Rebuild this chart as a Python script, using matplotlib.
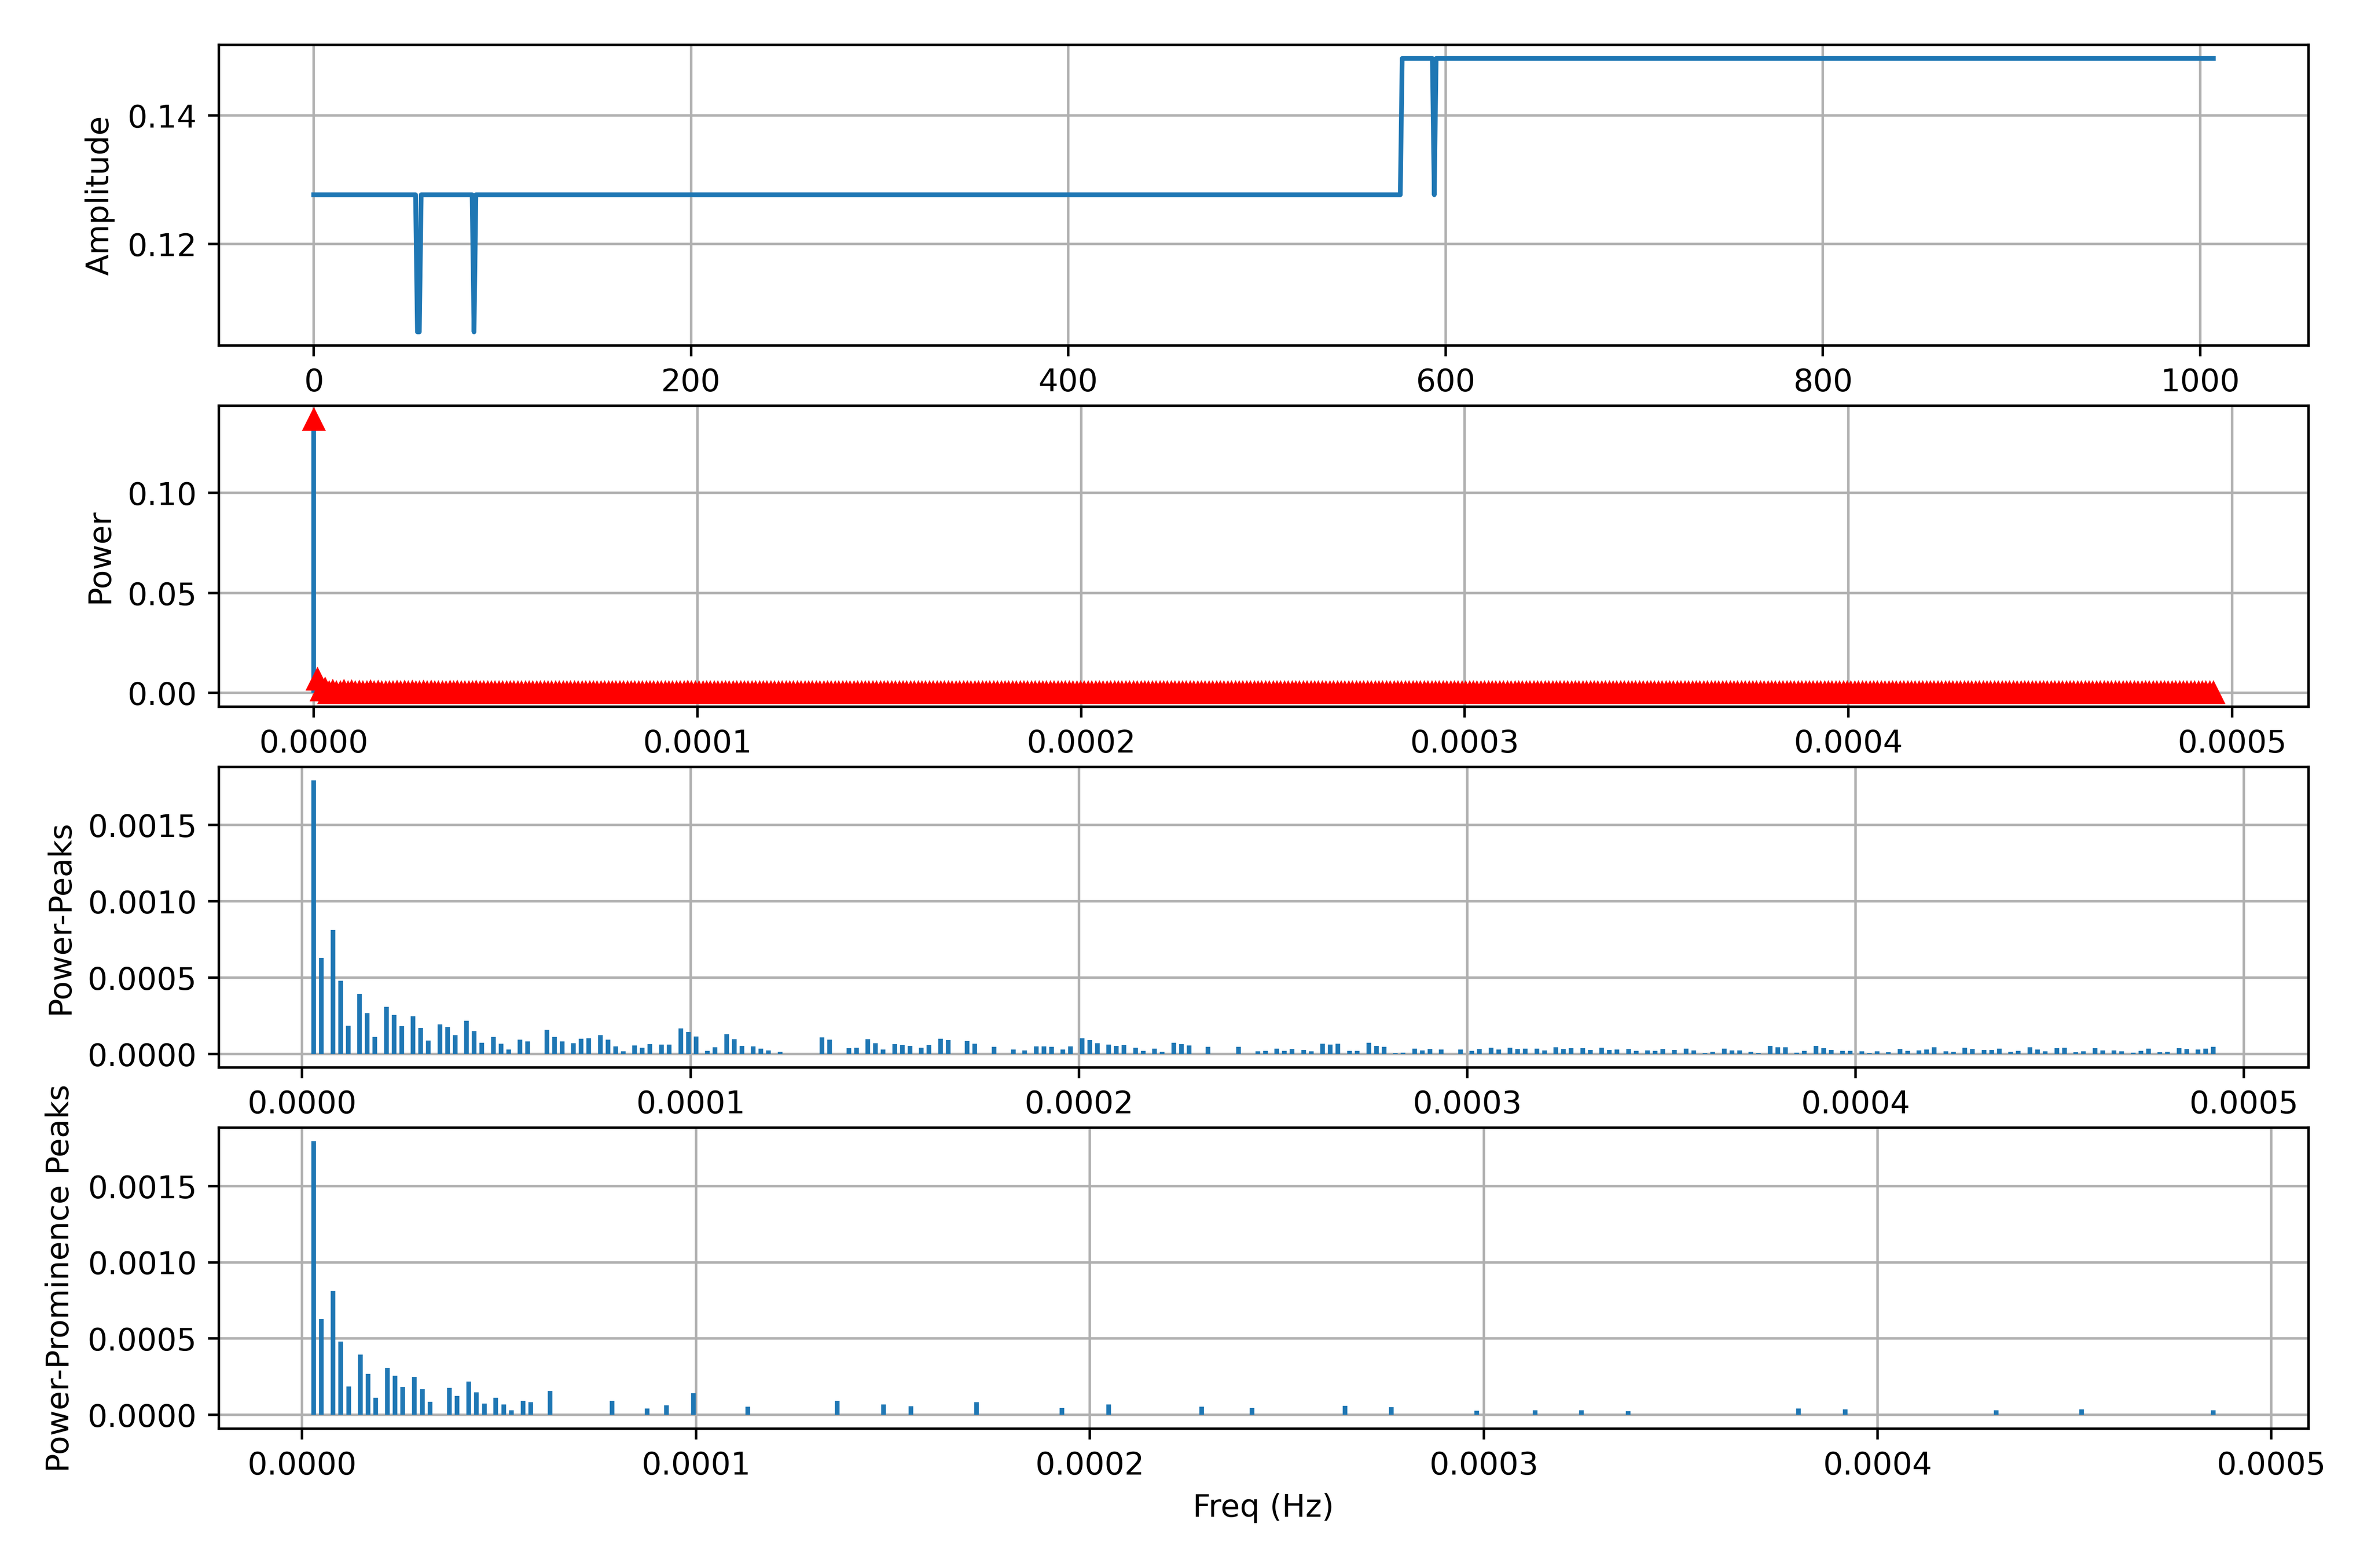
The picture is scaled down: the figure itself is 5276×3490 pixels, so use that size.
import numpy as np
import matplotlib
matplotlib.use("Agg")
import matplotlib.pyplot as plt

# ---------------- Panel 1: amplitude signal (corner points: sample index, amplitude)
amp_index = [0, 54, 55, 56, 57, 84, 85, 86, 576, 577, 593, 594, 595, 1007]
amp_value = [0.12767, 0.12767, 0.10628, 0.10628, 0.12767, 0.12767, 0.10628,
             0.12767, 0.12767, 0.14893, 0.14893, 0.12767, 0.14893, 0.14893]

# ---------------- Frequency grid of the spectrum
DF = 9.843e-7          # Hz per frequency bin
n_bins = 504           # bins 0 .. 503

# Lowest bins of the power spectrum (DC and its neighbours)
spec_low_bins = [0, 1, 2]
spec_low_vals = [0.1368, 0.0069, 0.0015]

# ---------------- Panel 3: all peaks of the power spectrum (bin, power)
peak_bins = [
    3, 5, 8, 10, 12, 15, 17, 19, 22, 24, 26, 29, 31, 33, 36, 38, 40, 43, 45, 47,
    50, 52, 54, 57, 59, 64, 66, 68, 71, 73, 75, 78, 80, 82, 84, 87, 89, 91, 94, 96,
    99, 101, 103, 106, 108, 111, 113, 115, 118, 120, 122, 125, 136, 138, 143, 145,
    148, 150, 152, 155, 157, 159, 162, 164, 167, 169, 174, 176, 181, 186, 189, 192,
    194, 196, 199, 201, 204, 206, 208, 211, 213, 215, 218, 220, 223, 225, 228, 230,
    232, 237, 245, 250, 252, 255, 257, 259, 262, 264, 267, 269, 271, 274, 276, 279,
    281, 283, 286, 288, 291, 293, 295, 298, 303, 306, 308, 311, 313, 316, 318, 320,
    323, 325, 328, 330, 332, 335, 337, 340, 342, 344, 347, 349, 352, 354, 356, 359,
    362, 364, 367, 369, 372, 374, 376, 379, 381, 384, 386, 388, 391, 393, 396, 398,
    400, 403, 405, 408, 410, 412, 415, 418, 420, 423, 425, 427, 430, 432, 435, 437,
    440, 442, 444, 447, 449, 452, 454, 456, 459, 461, 464, 466, 469, 471, 474, 476,
    479, 481, 483, 486, 488, 491, 493, 496, 498, 500]
peak_vals = [
    1.792e-3, 6.28e-4, 8.12e-4, 4.80e-4, 1.85e-4, 3.95e-4, 2.68e-4, 1.11e-4,
    3.07e-4, 2.56e-4, 1.82e-4, 2.47e-4, 1.69e-4, 8.6e-5, 1.94e-4, 1.76e-4,
    1.23e-4, 2.18e-4, 1.48e-4, 7.4e-5,
    1.11e-4, 6.8e-5, 2.9e-5, 9.2e-5, 8.3e-5, 1.57e-4, 1.11e-4, 8.3e-5, 7.1e-5,
    9.9e-5, 1.02e-4, 1.23e-4, 9.2e-5, 5.0e-5, 1.8e-5, 5.6e-5, 4.1e-5, 6.5e-5,
    6.2e-5, 6.2e-5,
    1.66e-4, 1.42e-4, 1.14e-4, 2.1e-5, 4.4e-5, 1.30e-4, 9.6e-5, 5.3e-5, 5.0e-5,
    3.5e-5, 2.3e-5, 1.5e-5, 1.08e-4, 9.2e-5, 3.8e-5, 4.1e-5,
    9.6e-5, 6.9e-5, 3.0e-5, 6.5e-5, 5.78e-5, 5.20e-5, 4.02e-5, 5.78e-5, 9.90e-5,
    9.02e-5, 8.43e-5, 6.67e-5, 4.61e-5, 2.84e-5, 2.25e-5, 4.90e-5,
    4.90e-5, 4.61e-5, 2.84e-5, 4.90e-5, 1.02e-4, 9.02e-5, 6.96e-5, 6.08e-5,
    5.20e-5, 5.78e-5, 4.02e-5, 1.96e-5, 3.43e-5, 1.37e-5, 7.25e-5, 6.37e-5,
    5.49e-5, 4.61e-5, 4.61e-5, 1.67e-5, 1.96e-5, 3.43e-5, 1.96e-5, 3.14e-5,
    2.55e-5, 1.67e-5, 6.67e-5, 6.08e-5, 6.67e-5, 1.96e-5, 1.96e-5, 7.25e-5,
    5.20e-5, 4.61e-5, 5.9e-6, 7.8e-6, 3.43e-5, 2.25e-5, 3.14e-5, 2.84e-5,
    2.84e-5, 1.96e-5, 3.14e-5, 4.02e-5, 2.84e-5, 4.02e-5, 3.14e-5, 3.43e-5,
    3.43e-5, 2.25e-5, 4.31e-5, 3.14e-5, 3.73e-5, 3.73e-5, 2.55e-5, 4.02e-5,
    2.55e-5, 2.84e-5, 3.14e-5, 1.96e-5, 2.25e-5, 1.96e-5, 3.14e-5, 2.55e-5,
    3.43e-5, 2.25e-5, 5.9e-6, 1.37e-5, 3.43e-5, 2.25e-5, 2.25e-5, 1.37e-5,
    4.9e-6, 5.20e-5, 4.31e-5, 4.31e-5, 7.8e-6, 1.96e-5, 5.20e-5, 3.73e-5,
    2.55e-5, 1.96e-5, 1.96e-5, 1.67e-5, 4.9e-6, 1.67e-5, 1.08e-5, 3.14e-5,
    1.96e-5, 2.25e-5, 2.84e-5, 4.31e-5, 1.67e-5, 1.37e-5, 4.02e-5, 3.14e-5,
    2.55e-5, 2.55e-5, 3.43e-5, 1.37e-5, 1.96e-5, 4.31e-5, 2.84e-5, 1.67e-5,
    3.73e-5, 4.02e-5, 1.08e-5, 1.67e-5, 3.73e-5, 2.25e-5, 2.25e-5, 1.67e-5,
    7.8e-6, 1.96e-5, 3.43e-5, 1.08e-5, 1.37e-5, 3.73e-5, 3.14e-5, 2.84e-5,
    3.43e-5, 4.61e-5]

# ---------------- Panel 4: peaks kept by the prominence filter (bins)
prom_bins = [3, 5, 8, 10, 12, 15, 17, 19, 22, 24, 26, 29, 31, 33, 38, 40, 43, 45,
             47, 50, 52, 54, 57, 59, 64, 80, 89, 94, 101, 115, 138, 150, 157, 174,
             196, 208, 232, 245, 269, 281, 303, 318, 330, 342, 386, 398, 437, 459,
             493]

# ---------------- assemble
peak_lookup = dict(zip(peak_bins, peak_vals))
prom_vals = [peak_lookup[b] for b in prom_bins]

spec_bins = np.arange(n_bins)
power = np.zeros(n_bins)          # troughs between peaks read as ~0
power[peak_bins] = peak_vals
power[spec_low_bins] = spec_low_vals
freq = spec_bins * DF

peak_freq = np.array(peak_bins) * DF
prom_freq = np.array(prom_bins) * DF

fig, (ax1, ax2, ax3, ax4) = plt.subplots(4, 1, figsize=(12, 8))

ax1.plot(amp_index, amp_value)
ax1.set_ylabel('Amplitude')
ax1.grid(True)

ax2.vlines(freq, 0, power)
ax2.plot(freq, power, 'r^')
ax2.set_ylabel('Power')
ax2.grid(True)

ax3.vlines(peak_freq, 0, peak_vals)
ax3.set_ylabel('Power-Peaks')
ax3.grid(True)

ax4.vlines(prom_freq, 0, prom_vals)
ax4.set_ylabel('Power-Prominence Peaks')
ax4.set_xlabel('Freq (Hz)')
ax4.grid(True)

fig.savefig('out.png', dpi=500, bbox_inches='tight', pad_inches=0.2)
